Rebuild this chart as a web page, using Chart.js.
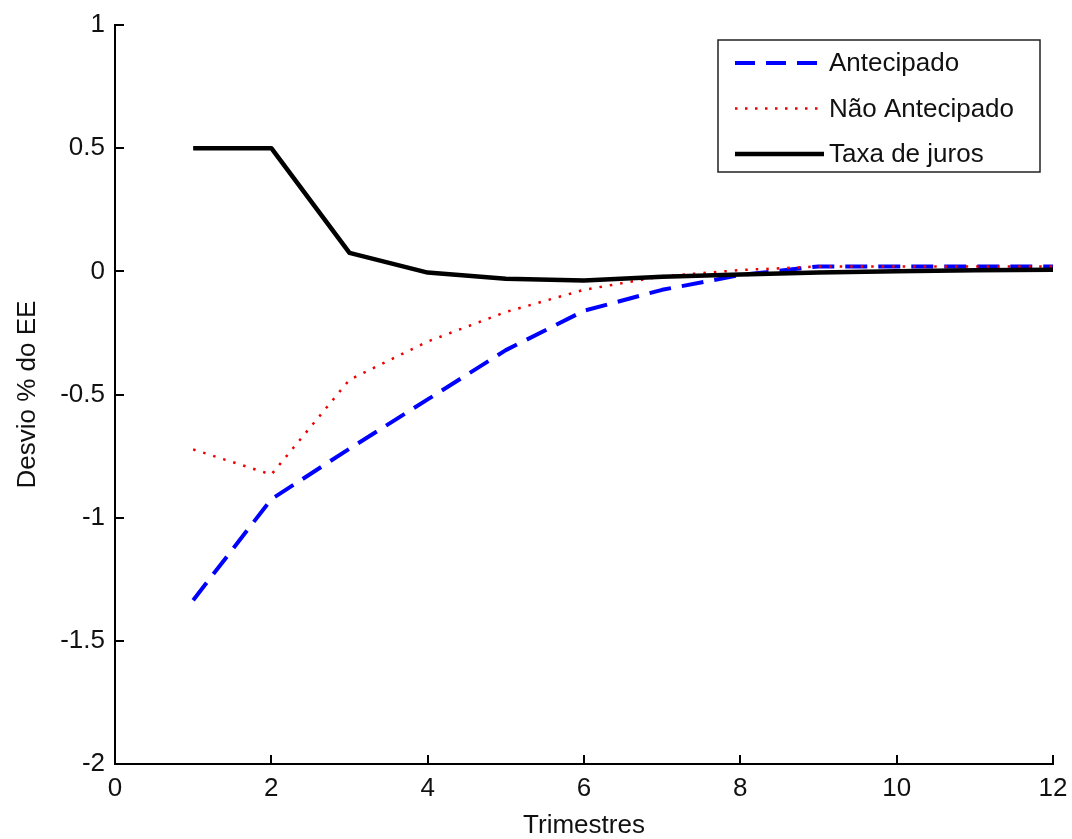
<!DOCTYPE html>
<html>
<head>
<meta charset="utf-8">
<title>Desvio % do EE</title>
<script src="https://cdn.jsdelivr.net/npm/chart.js@4.4.1/dist/chart.umd.min.js"></script>
<style>
  html, body { margin: 0; padding: 0; background: #fff; }
  #wrap { width: 1072px; height: 839px; position: relative; }
</style>
</head>
<body>
<div id="wrap"><canvas id="irf"></canvas></div>
<script>
'use strict';

// Respostas ao choque, por trimestre
const trimestres = [1, 2, 3, 4, 5, 6, 7, 8, 9, 10, 11, 12];
const antecipado = [-1.335, -0.925, -0.72, -0.52, -0.32, -0.16, -0.075, -0.015, 0.02, 0.02, 0.02, 0.02];
const naoAntecipado = [-0.723, -0.825, -0.44, -0.285, -0.165, -0.075, -0.02, 0.005, 0.02, 0.02, 0.02, 0.02];
const taxaJuros = [0.5, 0.5, 0.075, -0.005, -0.03, -0.037, -0.022, -0.013, -0.005, 0, 0.004, 0.006];

const xTicks = [0, 2, 4, 6, 8, 10, 12];
const yTicks = [-2, -1.5, -1, -0.5, 0, 0.5, 1];

const FONT = 'Arial, "Liberation Sans", sans-serif';

function pts(ys) {
  return trimestres.map((x, i) => ({ x, y: ys[i] }));
}

// tick marks pointing into the plot, matlab style
const innerTicks = {
  id: 'innerTicks',
  afterDraw(chart) {
    const { ctx, chartArea: a, scales } = chart;
    const len = 9;
    ctx.save();
    ctx.strokeStyle = '#000';
    ctx.lineWidth = 2;
    ctx.beginPath();
    xTicks.forEach(v => {
      const px = Math.round(scales.x.getPixelForValue(v));
      ctx.moveTo(px, a.bottom);
      ctx.lineTo(px, a.bottom - len);
    });
    yTicks.forEach(v => {
      const py = Math.round(scales.y.getPixelForValue(v));
      ctx.moveTo(a.left, py);
      ctx.lineTo(a.left + len, py);
    });
    ctx.stroke();
    ctx.restore();
  },
};

// boxed legend in the upper right corner of the plot
const boxLegend = {
  id: 'boxLegend',
  afterDraw(chart) {
    const { ctx, chartArea: a } = chart;
    const box = { x: a.right - 335, y: a.top + 15, w: 322, h: 132 };
    const rowH = 45.5;
    ctx.save();
    ctx.fillStyle = '#fff';
    ctx.fillRect(box.x, box.y, box.w, box.h);
    ctx.strokeStyle = '#222';
    ctx.lineWidth = 1.5;
    ctx.strokeRect(box.x, box.y, box.w, box.h);
    ctx.font = '26px ' + FONT;
    ctx.textBaseline = 'middle';
    chart.data.datasets.forEach((ds, i) => {
      const cy = box.y + 23 + i * rowH;
      ctx.strokeStyle = ds.borderColor;
      ctx.lineWidth = ds.borderWidth;
      ctx.setLineDash(ds.legendDash || []);
      ctx.beginPath();
      ctx.moveTo(box.x + 17, cy);
      ctx.lineTo(box.x + 106, cy);
      ctx.stroke();
      ctx.setLineDash([]);
      ctx.fillStyle = '#111';
      ctx.fillText(ds.label, box.x + 111, cy + 1);
    });
    ctx.restore();
  },
};

const tickFont = { family: FONT, size: 26 };

new Chart(document.getElementById('irf'), {
  type: 'line',
  data: {
    datasets: [
      {
        label: 'Antecipado',
        data: pts(antecipado),
        borderColor: '#0000ff',
        borderWidth: 4,
        borderDash: [22, 11],
        legendDash: [20, 11],
        order: 2,
      },
      {
        label: 'Não Antecipado',
        data: pts(naoAntecipado),
        borderColor: '#ee0000',
        borderWidth: 2.5,
        borderDash: [2.5, 8],
        legendDash: [2.5, 7.5],
        order: 1,
      },
      {
        label: 'Taxa de juros',
        data: pts(taxaJuros),
        borderColor: '#000000',
        borderWidth: 4.5,
        order: 0,
      },
    ],
  },
  options: {
    responsive: true,
    maintainAspectRatio: false,
    animation: false,
    layout: { padding: { top: 25, right: 19, left: 0, bottom: 0 } },
    elements: {
      point: { radius: 0, hoverRadius: 0 },
      line: { tension: 0, fill: false, borderJoinStyle: 'round' },
    },
    plugins: {
      legend: { display: false },
      tooltip: { enabled: false },
    },
    scales: {
      x: {
        type: 'linear',
        min: 0,
        max: 12,
        afterBuildTicks: s => { s.ticks = xTicks.map(v => ({ value: v })); },
        afterFit: s => { s.height = 75; s.paddingRight = 0; },
        grid: { display: false, drawTicks: false, tickLength: 0 },
        border: { display: true, color: '#000', width: 2 },
        ticks: { color: '#111', padding: 9, font: tickFont, callback: v => String(v) },
        title: {
          display: true,
          text: 'Trimestres',
          color: '#111',
          font: { family: FONT, size: 26, lineHeight: 1.05 },
          padding: { top: 0, bottom: 0 },
        },
      },
      y: {
        type: 'linear',
        min: -2,
        max: 1,
        afterBuildTicks: s => { s.ticks = yTicks.map(v => ({ value: v })); },
        afterFit: s => { s.width = 115; s.paddingTop = 0; },
        grid: { display: false, drawTicks: false, tickLength: 0 },
        border: { display: true, color: '#000', width: 2 },
        ticks: { color: '#111', padding: 10, font: tickFont, callback: v => String(v) },
        title: {
          display: true,
          text: 'Desvio % do EE',
          color: '#111',
          font: tickFont,
          padding: { top: 12, bottom: 0 },
        },
      },
    },
  },
  plugins: [innerTicks, boxLegend],
});
</script>
</body>
</html>
